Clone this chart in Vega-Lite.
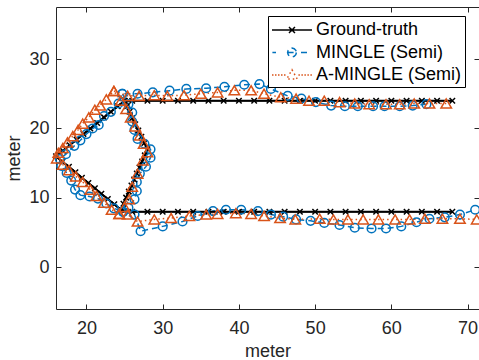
{
  "$schema": "https://vega.github.io/schema/vega-lite/v6.json",
  "width": 423,
  "height": 302,
  "autosize": {"type": "none"},
  "padding": {"left": 56, "top": 7, "right": 0, "bottom": 51},
  "background": "white",
  "config": {
    "view": {"stroke": null},
    "font": "Liberation Sans",
    "axis": {
      "grid": false,
      "domainColor": "#262626",
      "tickColor": "#262626",
      "labelColor": "#262626",
      "titleColor": "#262626",
      "domainWidth": 1,
      "tickWidth": 1,
      "tickSize": -5,
      "labelFontSize": 18,
      "titleFontSize": 18,
      "titleFontWeight": "normal",
      "labelFont": "Liberation Sans",
      "titleFont": "Liberation Sans"
    }
  },
  "data": {
    "values": [
      {"s": "Ground-truth", "g": 1, "i": 0, "x": 68, "y": 24},
      {"s": "Ground-truth", "g": 1, "i": 1, "x": 66, "y": 24},
      {"s": "Ground-truth", "g": 1, "i": 2, "x": 64, "y": 24},
      {"s": "Ground-truth", "g": 1, "i": 3, "x": 62, "y": 24},
      {"s": "Ground-truth", "g": 1, "i": 4, "x": 60, "y": 24},
      {"s": "Ground-truth", "g": 1, "i": 5, "x": 58, "y": 24},
      {"s": "Ground-truth", "g": 1, "i": 6, "x": 56, "y": 24},
      {"s": "Ground-truth", "g": 1, "i": 7, "x": 54, "y": 24},
      {"s": "Ground-truth", "g": 1, "i": 8, "x": 52, "y": 24},
      {"s": "Ground-truth", "g": 1, "i": 9, "x": 50, "y": 24},
      {"s": "Ground-truth", "g": 1, "i": 10, "x": 48, "y": 24},
      {"s": "Ground-truth", "g": 1, "i": 11, "x": 46, "y": 24},
      {"s": "Ground-truth", "g": 1, "i": 12, "x": 44, "y": 24},
      {"s": "Ground-truth", "g": 1, "i": 13, "x": 42, "y": 24},
      {"s": "Ground-truth", "g": 1, "i": 14, "x": 40, "y": 24},
      {"s": "Ground-truth", "g": 1, "i": 15, "x": 38, "y": 24},
      {"s": "Ground-truth", "g": 1, "i": 16, "x": 36, "y": 24},
      {"s": "Ground-truth", "g": 1, "i": 17, "x": 34, "y": 24},
      {"s": "Ground-truth", "g": 1, "i": 18, "x": 32, "y": 24},
      {"s": "Ground-truth", "g": 1, "i": 19, "x": 30, "y": 24},
      {"s": "Ground-truth", "g": 1, "i": 20, "x": 28, "y": 24},
      {"s": "Ground-truth", "g": 1, "i": 21, "x": 26, "y": 24},
      {"s": "Ground-truth", "g": 1, "i": 22, "x": 25, "y": 24},
      {"s": "Ground-truth", "g": 1, "i": 23, "x": 24.1, "y": 23.2},
      {"s": "Ground-truth", "g": 1, "i": 24, "x": 23.2, "y": 22.4},
      {"s": "Ground-truth", "g": 1, "i": 25, "x": 22.3, "y": 21.6},
      {"s": "Ground-truth", "g": 1, "i": 26, "x": 21.4, "y": 20.8},
      {"s": "Ground-truth", "g": 1, "i": 27, "x": 20.5, "y": 20},
      {"s": "Ground-truth", "g": 1, "i": 28, "x": 19.6, "y": 19.2},
      {"s": "Ground-truth", "g": 1, "i": 29, "x": 18.7, "y": 18.4},
      {"s": "Ground-truth", "g": 1, "i": 30, "x": 17.8, "y": 17.6},
      {"s": "Ground-truth", "g": 1, "i": 31, "x": 16.9, "y": 16.8},
      {"s": "Ground-truth", "g": 1, "i": 32, "x": 16, "y": 16},
      {"s": "Ground-truth", "g": 1, "i": 33, "x": 16.85, "y": 15.2},
      {"s": "Ground-truth", "g": 1, "i": 34, "x": 17.7, "y": 14.5},
      {"s": "Ground-truth", "g": 1, "i": 35, "x": 18.55, "y": 13.7},
      {"s": "Ground-truth", "g": 1, "i": 36, "x": 19.4, "y": 12.9},
      {"s": "Ground-truth", "g": 1, "i": 37, "x": 20.25, "y": 12.15},
      {"s": "Ground-truth", "g": 1, "i": 38, "x": 21.1, "y": 11.4},
      {"s": "Ground-truth", "g": 1, "i": 39, "x": 21.95, "y": 10.6},
      {"s": "Ground-truth", "g": 1, "i": 40, "x": 22.8, "y": 9.85},
      {"s": "Ground-truth", "g": 1, "i": 41, "x": 23.65, "y": 9.1},
      {"s": "Ground-truth", "g": 1, "i": 42, "x": 24.5, "y": 8.3},
      {"s": "Ground-truth", "g": 1, "i": 43, "x": 26, "y": 8},
      {"s": "Ground-truth", "g": 1, "i": 44, "x": 28, "y": 8},
      {"s": "Ground-truth", "g": 1, "i": 45, "x": 30, "y": 8},
      {"s": "Ground-truth", "g": 1, "i": 46, "x": 32, "y": 8},
      {"s": "Ground-truth", "g": 1, "i": 47, "x": 34, "y": 8},
      {"s": "Ground-truth", "g": 1, "i": 48, "x": 36, "y": 8},
      {"s": "Ground-truth", "g": 1, "i": 49, "x": 38, "y": 8},
      {"s": "Ground-truth", "g": 1, "i": 50, "x": 40, "y": 8},
      {"s": "Ground-truth", "g": 1, "i": 51, "x": 42, "y": 8},
      {"s": "Ground-truth", "g": 1, "i": 52, "x": 44, "y": 8},
      {"s": "Ground-truth", "g": 1, "i": 53, "x": 46, "y": 8},
      {"s": "Ground-truth", "g": 1, "i": 54, "x": 48, "y": 8},
      {"s": "Ground-truth", "g": 1, "i": 55, "x": 50, "y": 8},
      {"s": "Ground-truth", "g": 1, "i": 56, "x": 52, "y": 8},
      {"s": "Ground-truth", "g": 1, "i": 57, "x": 54, "y": 8},
      {"s": "Ground-truth", "g": 1, "i": 58, "x": 56, "y": 8},
      {"s": "Ground-truth", "g": 1, "i": 59, "x": 58, "y": 8},
      {"s": "Ground-truth", "g": 1, "i": 60, "x": 60, "y": 8},
      {"s": "Ground-truth", "g": 1, "i": 61, "x": 62, "y": 8},
      {"s": "Ground-truth", "g": 1, "i": 62, "x": 64, "y": 8},
      {"s": "Ground-truth", "g": 1, "i": 63, "x": 66, "y": 8},
      {"s": "Ground-truth", "g": 1, "i": 64, "x": 68, "y": 8},
      {"s": "Ground-truth", "g": 2, "i": 0, "x": 24.5, "y": 8.3},
      {"s": "Ground-truth", "g": 2, "i": 1, "x": 24.85, "y": 9.17},
      {"s": "Ground-truth", "g": 2, "i": 2, "x": 25.2, "y": 10.04},
      {"s": "Ground-truth", "g": 2, "i": 3, "x": 25.55, "y": 10.91},
      {"s": "Ground-truth", "g": 2, "i": 4, "x": 25.9, "y": 11.78},
      {"s": "Ground-truth", "g": 2, "i": 5, "x": 26.25, "y": 12.65},
      {"s": "Ground-truth", "g": 2, "i": 6, "x": 26.6, "y": 13.52},
      {"s": "Ground-truth", "g": 2, "i": 7, "x": 26.95, "y": 14.39},
      {"s": "Ground-truth", "g": 2, "i": 8, "x": 27.3, "y": 15.26},
      {"s": "Ground-truth", "g": 2, "i": 9, "x": 27.65, "y": 16.13},
      {"s": "Ground-truth", "g": 2, "i": 10, "x": 28, "y": 17},
      {"s": "Ground-truth", "g": 2, "i": 11, "x": 27.6, "y": 17.9},
      {"s": "Ground-truth", "g": 2, "i": 12, "x": 27.2, "y": 18.8},
      {"s": "Ground-truth", "g": 2, "i": 13, "x": 26.8, "y": 19.7},
      {"s": "Ground-truth", "g": 2, "i": 14, "x": 26.4, "y": 20.6},
      {"s": "Ground-truth", "g": 2, "i": 15, "x": 26, "y": 21.5},
      {"s": "Ground-truth", "g": 2, "i": 16, "x": 25.65, "y": 22.4},
      {"s": "Ground-truth", "g": 2, "i": 17, "x": 25.3, "y": 23.2},
      {"s": "Ground-truth", "g": 2, "i": 18, "x": 25, "y": 24},

      {"s": "MINGLE (Semi)", "g": 1, "i": 0, "x": 64.6, "y": 23.5},
      {"s": "MINGLE (Semi)", "g": 1, "i": 1, "x": 62.8, "y": 23.3},
      {"s": "MINGLE (Semi)", "g": 1, "i": 2, "x": 61.1, "y": 23.2},
      {"s": "MINGLE (Semi)", "g": 1, "i": 3, "x": 59.1, "y": 23.2},
      {"s": "MINGLE (Semi)", "g": 1, "i": 4, "x": 57.6, "y": 23.2},
      {"s": "MINGLE (Semi)", "g": 1, "i": 5, "x": 55.6, "y": 23.2},
      {"s": "MINGLE (Semi)", "g": 1, "i": 6, "x": 53.9, "y": 23.2},
      {"s": "MINGLE (Semi)", "g": 1, "i": 7, "x": 52.1, "y": 23.3},
      {"s": "MINGLE (Semi)", "g": 1, "i": 8, "x": 50.1, "y": 23.8},
      {"s": "MINGLE (Semi)", "g": 1, "i": 9, "x": 48.2, "y": 24.3},
      {"s": "MINGLE (Semi)", "g": 1, "i": 10, "x": 46.4, "y": 24.7},
      {"s": "MINGLE (Semi)", "g": 1, "i": 11, "x": 44.2, "y": 25.7},
      {"s": "MINGLE (Semi)", "g": 1, "i": 12, "x": 42.7, "y": 26.4},
      {"s": "MINGLE (Semi)", "g": 1, "i": 13, "x": 40.7, "y": 26.3},
      {"s": "MINGLE (Semi)", "g": 1, "i": 14, "x": 38.1, "y": 26.0},
      {"s": "MINGLE (Semi)", "g": 1, "i": 15, "x": 35.7, "y": 25.8},
      {"s": "MINGLE (Semi)", "g": 1, "i": 16, "x": 33.1, "y": 25.7},
      {"s": "MINGLE (Semi)", "g": 1, "i": 17, "x": 30.9, "y": 25.45},
      {"s": "MINGLE (Semi)", "g": 1, "i": 18, "x": 28.7, "y": 25.2},
      {"s": "MINGLE (Semi)", "g": 1, "i": 19, "x": 26.7, "y": 25.0},
      {"s": "MINGLE (Semi)", "g": 1, "i": 20, "x": 24.7, "y": 25.0},
      {"s": "MINGLE (Semi)", "g": 1, "i": 21, "x": 24.2, "y": 23.6},
      {"s": "MINGLE (Semi)", "g": 1, "i": 22, "x": 23.2, "y": 22.4},
      {"s": "MINGLE (Semi)", "g": 1, "i": 23, "x": 22.3, "y": 21.8},
      {"s": "MINGLE (Semi)", "g": 1, "i": 24, "x": 21.6, "y": 20.5},
      {"s": "MINGLE (Semi)", "g": 1, "i": 25, "x": 20.8, "y": 20.0},
      {"s": "MINGLE (Semi)", "g": 1, "i": 26, "x": 20.0, "y": 19.2},
      {"s": "MINGLE (Semi)", "g": 1, "i": 27, "x": 19.2, "y": 18.3},
      {"s": "MINGLE (Semi)", "g": 1, "i": 28, "x": 18.4, "y": 17.5},
      {"s": "MINGLE (Semi)", "g": 1, "i": 29, "x": 17.3, "y": 16.3},
      {"s": "MINGLE (Semi)", "g": 1, "i": 30, "x": 16.5, "y": 15.6},
      {"s": "MINGLE (Semi)", "g": 1, "i": 31, "x": 16.7, "y": 14.6},
      {"s": "MINGLE (Semi)", "g": 1, "i": 32, "x": 17.4, "y": 13.6},
      {"s": "MINGLE (Semi)", "g": 1, "i": 33, "x": 18.0, "y": 12.5},
      {"s": "MINGLE (Semi)", "g": 1, "i": 34, "x": 18.5, "y": 11.2},
      {"s": "MINGLE (Semi)", "g": 1, "i": 35, "x": 19.2, "y": 10.4},
      {"s": "MINGLE (Semi)", "g": 1, "i": 36, "x": 20.4, "y": 10.2},
      {"s": "MINGLE (Semi)", "g": 1, "i": 37, "x": 21.5, "y": 9.9},
      {"s": "MINGLE (Semi)", "g": 1, "i": 38, "x": 22.6, "y": 9.2},
      {"s": "MINGLE (Semi)", "g": 1, "i": 39, "x": 23.6, "y": 8.5},
      {"s": "MINGLE (Semi)", "g": 1, "i": 40, "x": 24.8, "y": 8.0},
      {"s": "MINGLE (Semi)", "g": 1, "i": 41, "x": 26.3, "y": 7.6},
      {"s": "MINGLE (Semi)", "g": 1, "i": 42, "x": 27.1, "y": 5.2},
      {"s": "MINGLE (Semi)", "g": 1, "i": 43, "x": 30.0, "y": 5.9},
      {"s": "MINGLE (Semi)", "g": 1, "i": 44, "x": 32.6, "y": 6.6},
      {"s": "MINGLE (Semi)", "g": 1, "i": 45, "x": 34.6, "y": 7.4},
      {"s": "MINGLE (Semi)", "g": 1, "i": 46, "x": 36.6, "y": 8.1},
      {"s": "MINGLE (Semi)", "g": 1, "i": 47, "x": 38.3, "y": 8.3},
      {"s": "MINGLE (Semi)", "g": 1, "i": 48, "x": 40.3, "y": 8.3},
      {"s": "MINGLE (Semi)", "g": 1, "i": 49, "x": 42.5, "y": 8.1},
      {"s": "MINGLE (Semi)", "g": 1, "i": 50, "x": 44.2, "y": 7.6},
      {"s": "MINGLE (Semi)", "g": 1, "i": 51, "x": 45.8, "y": 7.3},
      {"s": "MINGLE (Semi)", "g": 1, "i": 52, "x": 47.5, "y": 6.9},
      {"s": "MINGLE (Semi)", "g": 1, "i": 53, "x": 49.4, "y": 6.7},
      {"s": "MINGLE (Semi)", "g": 1, "i": 54, "x": 51.2, "y": 6.4},
      {"s": "MINGLE (Semi)", "g": 1, "i": 55, "x": 53.2, "y": 6.1},
      {"s": "MINGLE (Semi)", "g": 1, "i": 56, "x": 55.2, "y": 5.7},
      {"s": "MINGLE (Semi)", "g": 1, "i": 57, "x": 57.4, "y": 5.6},
      {"s": "MINGLE (Semi)", "g": 1, "i": 58, "x": 59.3, "y": 5.6},
      {"s": "MINGLE (Semi)", "g": 1, "i": 59, "x": 61.3, "y": 5.9},
      {"s": "MINGLE (Semi)", "g": 1, "i": 60, "x": 63.3, "y": 6.5},
      {"s": "MINGLE (Semi)", "g": 1, "i": 61, "x": 65.0, "y": 7.0},
      {"s": "MINGLE (Semi)", "g": 1, "i": 62, "x": 67.0, "y": 7.2},
      {"s": "MINGLE (Semi)", "g": 1, "i": 63, "x": 69.0, "y": 7.6},
      {"s": "MINGLE (Semi)", "g": 1, "i": 64, "x": 71.0, "y": 8.3},
      {"s": "MINGLE (Semi)", "g": 2, "i": 0, "x": 24.8, "y": 8.0},
      {"s": "MINGLE (Semi)", "g": 2, "i": 1, "x": 25.5, "y": 8.6},
      {"s": "MINGLE (Semi)", "g": 2, "i": 2, "x": 26.3, "y": 9.8},
      {"s": "MINGLE (Semi)", "g": 2, "i": 3, "x": 26.6, "y": 11.0},
      {"s": "MINGLE (Semi)", "g": 2, "i": 4, "x": 26.6, "y": 12.3},
      {"s": "MINGLE (Semi)", "g": 2, "i": 5, "x": 27.0, "y": 13.5},
      {"s": "MINGLE (Semi)", "g": 2, "i": 6, "x": 27.8, "y": 14.5},
      {"s": "MINGLE (Semi)", "g": 2, "i": 7, "x": 28.4, "y": 15.8},
      {"s": "MINGLE (Semi)", "g": 2, "i": 8, "x": 28.4, "y": 17.0},
      {"s": "MINGLE (Semi)", "g": 2, "i": 9, "x": 27.6, "y": 17.8},
      {"s": "MINGLE (Semi)", "g": 2, "i": 10, "x": 26.7, "y": 18.5},
      {"s": "MINGLE (Semi)", "g": 2, "i": 11, "x": 26.3, "y": 19.8},
      {"s": "MINGLE (Semi)", "g": 2, "i": 12, "x": 26.0, "y": 21.0},
      {"s": "MINGLE (Semi)", "g": 2, "i": 13, "x": 26.0, "y": 22.3},
      {"s": "MINGLE (Semi)", "g": 2, "i": 14, "x": 25.5, "y": 23.5},
      {"s": "MINGLE (Semi)", "g": 2, "i": 15, "x": 24.7, "y": 25.0},

      {"s": "A-MINGLE (Semi)", "g": 1, "i": 0, "x": 67.2, "y": 23.6},
      {"s": "A-MINGLE (Semi)", "g": 1, "i": 1, "x": 65.0, "y": 23.6},
      {"s": "A-MINGLE (Semi)", "g": 1, "i": 2, "x": 63.0, "y": 23.6},
      {"s": "A-MINGLE (Semi)", "g": 1, "i": 3, "x": 61.1, "y": 23.5},
      {"s": "A-MINGLE (Semi)", "g": 1, "i": 4, "x": 59.3, "y": 23.5},
      {"s": "A-MINGLE (Semi)", "g": 1, "i": 5, "x": 57.1, "y": 23.5},
      {"s": "A-MINGLE (Semi)", "g": 1, "i": 6, "x": 55.2, "y": 23.6},
      {"s": "A-MINGLE (Semi)", "g": 1, "i": 7, "x": 53.2, "y": 23.8},
      {"s": "A-MINGLE (Semi)", "g": 1, "i": 8, "x": 51.2, "y": 24.0},
      {"s": "A-MINGLE (Semi)", "g": 1, "i": 9, "x": 49.2, "y": 24.0},
      {"s": "A-MINGLE (Semi)", "g": 1, "i": 10, "x": 47.5, "y": 24.3},
      {"s": "A-MINGLE (Semi)", "g": 1, "i": 11, "x": 45.5, "y": 24.5},
      {"s": "A-MINGLE (Semi)", "g": 1, "i": 12, "x": 43.3, "y": 25.0},
      {"s": "A-MINGLE (Semi)", "g": 1, "i": 13, "x": 41.6, "y": 25.5},
      {"s": "A-MINGLE (Semi)", "g": 1, "i": 14, "x": 39.4, "y": 25.5},
      {"s": "A-MINGLE (Semi)", "g": 1, "i": 15, "x": 37.2, "y": 25.2},
      {"s": "A-MINGLE (Semi)", "g": 1, "i": 16, "x": 35.0, "y": 25.0},
      {"s": "A-MINGLE (Semi)", "g": 1, "i": 17, "x": 32.8, "y": 24.8},
      {"s": "A-MINGLE (Semi)", "g": 1, "i": 18, "x": 30.6, "y": 24.7},
      {"s": "A-MINGLE (Semi)", "g": 1, "i": 19, "x": 28.9, "y": 24.8},
      {"s": "A-MINGLE (Semi)", "g": 1, "i": 20, "x": 26.9, "y": 24.7},
      {"s": "A-MINGLE (Semi)", "g": 1, "i": 21, "x": 25.4, "y": 24.7},
      {"s": "A-MINGLE (Semi)", "g": 1, "i": 22, "x": 23.6, "y": 25.4},
      {"s": "A-MINGLE (Semi)", "g": 1, "i": 23, "x": 22.6, "y": 24.2},
      {"s": "A-MINGLE (Semi)", "g": 1, "i": 24, "x": 21.8, "y": 23.3},
      {"s": "A-MINGLE (Semi)", "g": 1, "i": 25, "x": 21.1, "y": 22.7},
      {"s": "A-MINGLE (Semi)", "g": 1, "i": 26, "x": 20.3, "y": 21.6},
      {"s": "A-MINGLE (Semi)", "g": 1, "i": 27, "x": 19.5, "y": 20.7},
      {"s": "A-MINGLE (Semi)", "g": 1, "i": 28, "x": 18.9, "y": 19.8},
      {"s": "A-MINGLE (Semi)", "g": 1, "i": 29, "x": 18.2, "y": 18.9},
      {"s": "A-MINGLE (Semi)", "g": 1, "i": 30, "x": 17.5, "y": 18.0},
      {"s": "A-MINGLE (Semi)", "g": 1, "i": 31, "x": 16.9, "y": 17.2},
      {"s": "A-MINGLE (Semi)", "g": 1, "i": 32, "x": 16.3, "y": 16.5},
      {"s": "A-MINGLE (Semi)", "g": 1, "i": 33, "x": 16.1, "y": 15.7},
      {"s": "A-MINGLE (Semi)", "g": 1, "i": 34, "x": 16.9, "y": 14.8},
      {"s": "A-MINGLE (Semi)", "g": 1, "i": 35, "x": 17.7, "y": 14.0},
      {"s": "A-MINGLE (Semi)", "g": 1, "i": 36, "x": 18.6, "y": 13.1},
      {"s": "A-MINGLE (Semi)", "g": 1, "i": 37, "x": 19.5, "y": 12.3},
      {"s": "A-MINGLE (Semi)", "g": 1, "i": 38, "x": 20.5, "y": 11.2},
      {"s": "A-MINGLE (Semi)", "g": 1, "i": 39, "x": 21.3, "y": 10.3},
      {"s": "A-MINGLE (Semi)", "g": 1, "i": 40, "x": 22.3, "y": 9.3},
      {"s": "A-MINGLE (Semi)", "g": 1, "i": 41, "x": 23.3, "y": 8.3},
      {"s": "A-MINGLE (Semi)", "g": 1, "i": 42, "x": 24.3, "y": 7.7},
      {"s": "A-MINGLE (Semi)", "g": 1, "i": 43, "x": 25.4, "y": 7.6},
      {"s": "A-MINGLE (Semi)", "g": 1, "i": 44, "x": 26.7, "y": 6.6},
      {"s": "A-MINGLE (Semi)", "g": 1, "i": 45, "x": 28.9, "y": 6.9},
      {"s": "A-MINGLE (Semi)", "g": 1, "i": 46, "x": 31.1, "y": 7.1},
      {"s": "A-MINGLE (Semi)", "g": 1, "i": 47, "x": 33.5, "y": 7.4},
      {"s": "A-MINGLE (Semi)", "g": 1, "i": 48, "x": 35.7, "y": 7.6},
      {"s": "A-MINGLE (Semi)", "g": 1, "i": 49, "x": 37.2, "y": 7.7},
      {"s": "A-MINGLE (Semi)", "g": 1, "i": 50, "x": 39.6, "y": 7.8},
      {"s": "A-MINGLE (Semi)", "g": 1, "i": 51, "x": 41.6, "y": 7.7},
      {"s": "A-MINGLE (Semi)", "g": 1, "i": 52, "x": 43.3, "y": 7.4},
      {"s": "A-MINGLE (Semi)", "g": 1, "i": 53, "x": 45.4, "y": 7.1},
      {"s": "A-MINGLE (Semi)", "g": 1, "i": 54, "x": 47.4, "y": 6.9},
      {"s": "A-MINGLE (Semi)", "g": 1, "i": 55, "x": 50.6, "y": 7.0},
      {"s": "A-MINGLE (Semi)", "g": 1, "i": 56, "x": 52.4, "y": 6.9},
      {"s": "A-MINGLE (Semi)", "g": 1, "i": 57, "x": 54.3, "y": 6.9},
      {"s": "A-MINGLE (Semi)", "g": 1, "i": 58, "x": 56.3, "y": 6.9},
      {"s": "A-MINGLE (Semi)", "g": 1, "i": 59, "x": 58.3, "y": 6.9},
      {"s": "A-MINGLE (Semi)", "g": 1, "i": 60, "x": 60.5, "y": 6.9},
      {"s": "A-MINGLE (Semi)", "g": 1, "i": 61, "x": 62.4, "y": 6.9},
      {"s": "A-MINGLE (Semi)", "g": 1, "i": 62, "x": 64.4, "y": 7.0},
      {"s": "A-MINGLE (Semi)", "g": 1, "i": 63, "x": 66.7, "y": 7.0},
      {"s": "A-MINGLE (Semi)", "g": 1, "i": 64, "x": 69.0, "y": 7.0},
      {"s": "A-MINGLE (Semi)", "g": 1, "i": 65, "x": 71.2, "y": 6.9},
      {"s": "A-MINGLE (Semi)", "g": 2, "i": 0, "x": 24.3, "y": 7.7},
      {"s": "A-MINGLE (Semi)", "g": 2, "i": 1, "x": 25.0, "y": 8.7},
      {"s": "A-MINGLE (Semi)", "g": 2, "i": 2, "x": 25.6, "y": 9.8},
      {"s": "A-MINGLE (Semi)", "g": 2, "i": 3, "x": 26.0, "y": 11.6},
      {"s": "A-MINGLE (Semi)", "g": 2, "i": 4, "x": 26.7, "y": 13.5},
      {"s": "A-MINGLE (Semi)", "g": 2, "i": 5, "x": 27.4, "y": 15.4},
      {"s": "A-MINGLE (Semi)", "g": 2, "i": 6, "x": 28.0, "y": 16.6},
      {"s": "A-MINGLE (Semi)", "g": 2, "i": 7, "x": 27.5, "y": 17.8},
      {"s": "A-MINGLE (Semi)", "g": 2, "i": 8, "x": 27.0, "y": 19.0},
      {"s": "A-MINGLE (Semi)", "g": 2, "i": 9, "x": 26.4, "y": 20.3},
      {"s": "A-MINGLE (Semi)", "g": 2, "i": 10, "x": 25.8, "y": 21.6},
      {"s": "A-MINGLE (Semi)", "g": 2, "i": 11, "x": 25.2, "y": 22.8},
      {"s": "A-MINGLE (Semi)", "g": 2, "i": 12, "x": 24.5, "y": 24.0},
      {"s": "A-MINGLE (Semi)", "g": 2, "i": 13, "x": 23.6, "y": 25.4}
    ]
  },
  "layer": [
    {
      "mark": {"type": "point", "opacity": 0},
      "encoding": {
        "x": {"field": "x", "type": "quantitative", "scale": {"domain": [16, 71.5], "nice": false, "zero": false},
              "axis": {"orient": "top", "values": [20, 30, 40, 50, 60, 70], "labels": false, "title": null}},
        "y": {"field": "y", "type": "quantitative", "scale": {"domain": [-6, 37.5], "nice": false, "zero": false},
              "axis": {"orient": "right", "values": [0, 10, 20, 30], "labels": false, "title": null}}
      }
    },
    {
      "encoding": {
        "x": {"field": "x", "type": "quantitative", "scale": {"domain": [16, 71.5], "nice": false, "zero": false},
              "axis": {"orient": "bottom", "values": [20, 30, 40, 50, 60, 70], "title": "meter", "labelPadding": 15, "titlePadding": 5}},
        "y": {"field": "y", "type": "quantitative", "scale": {"domain": [-6, 37.5], "nice": false, "zero": false},
              "axis": {"orient": "left", "values": [0, 10, 20, 30], "title": "meter", "labelPadding": 12, "titlePadding": 5}}
      },
      "layer": [
        {
          "mark": {"type": "line", "strokeWidth": 1.5},
          "encoding": {
            "color": {
              "field": "s", "type": "nominal",
              "scale": {"domain": ["Ground-truth", "MINGLE (Semi)", "A-MINGLE (Semi)"], "range": ["#000000", "#0072BD", "#D95319"]},
              "legend": {
                "orient": "none", "legendX": 212, "legendY": 9,
                "title": null,
                "symbolSize": 400,
                "symbolStrokeWidth": 1.5,
                "labelFontSize": 18, "labelColor": "#000000", "labelFont": "Liberation Sans",
                "labelOffset": 23,
                "padding": 3,
                "rowPadding": 2.5,
                "strokeColor": "#000000",
                "fillColor": "#ffffff",
                "encode": {
                  "symbols": {
                    "update": {
                      "shape": {"signal": "datum.label === 'Ground-truth' ? 'M-1,0L3,0M0.7,-0.3L1.3,0.3M0.7,0.3L1.3,-0.3' : (datum.label === 'MINGLE (Semi)' ? 'M-0.96,0L-0.6,0M0.56,0L1.44,0M1.9,0L2.9,0M1.44,0L1.38,0.22L1.22,0.38L1,0.44L0.78,0.38L0.62,0.22L0.56,0L0.62,-0.22L0.78,-0.38L1,-0.44L1.22,-0.38L1.38,-0.22Z' : 'M-1,0L-0.84,0M-0.7,0L-0.54,0M-0.4,0L-0.24,0M-0.1,0L0.06,0M0.2,0L0.36,0M1.64,0L1.8,0M1.94,0L2.1,0M2.24,0L2.4,0M2.54,0L2.7,0M2.84,0L3,0M1,-0.52L1.52,0.4L0.48,0.4Z')"},
                      "fill": {"value": "transparent"},
                      "strokeDash": {"value": [1, 0]},
                      "strokeWidth": {"value": 1.5},
                      "size": {"value": 400}
                    }
                  }
                }
              }
            },
            "strokeDash": {
              "field": "s", "type": "nominal",
              "scale": {"domain": ["Ground-truth", "MINGLE (Semi)", "A-MINGLE (Semi)"], "range": [[1, 0], [6, 4], [1.5, 3]]},
              "legend": null
            },
            "detail": {"field": "g", "type": "nominal"},
            "order": {"field": "i", "type": "quantitative"}
          }
        },
        {
          "transform": [{"filter": "datum.s === 'Ground-truth'"}],
          "mark": {"type": "line", "strokeWidth": 2, "color": "#000000"},
          "encoding": {
            "detail": {"field": "g", "type": "nominal"},
            "order": {"field": "i", "type": "quantitative"}
          }
        },
        {
          "transform": [{"filter": "datum.s === 'Ground-truth'"}],
          "mark": {"type": "point", "filled": false, "strokeWidth": 1.5, "opacity": 1, "color": "#000000", "shape": "M-1,-1L1,1M-1,1L1,-1", "size": 30}
        },
        {
          "transform": [{"filter": "datum.s === 'MINGLE (Semi)'"}],
          "mark": {"type": "point", "filled": false, "strokeWidth": 1.5, "opacity": 1, "color": "#0072BD", "shape": "circle", "size": 75}
        },
        {
          "transform": [{"filter": "datum.s === 'A-MINGLE (Semi)'"}],
          "mark": {"type": "point", "filled": false, "strokeWidth": 1.5, "opacity": 1, "color": "#D95319", "shape": "triangle-up", "size": 110}
        }
      ]
    }
  ],
  "resolve": {"axis": {"x": "independent", "y": "independent"}}
}
